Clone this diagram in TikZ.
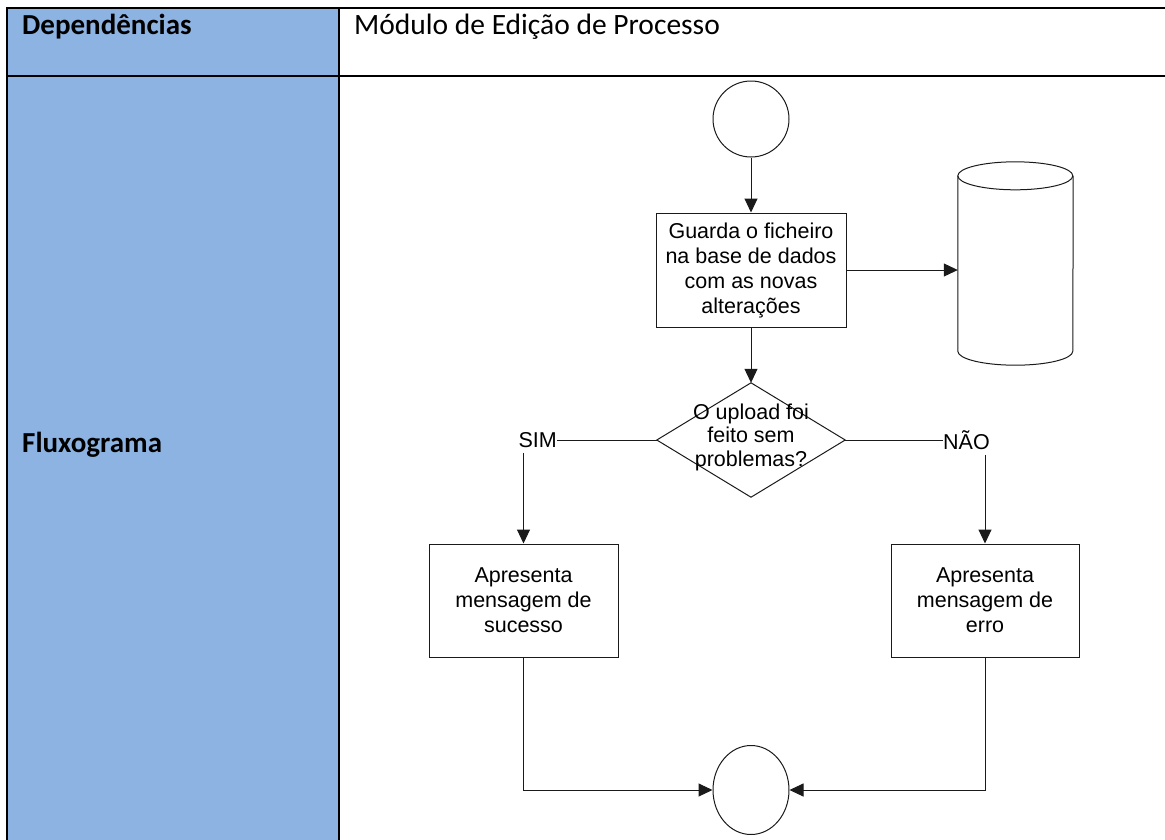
\documentclass[tikz,border=0pt]{standalone}
\usepackage{fontspec}
\setmainfont{Liberation Sans}
\newfontfamily\carlito{Carlito}
\usetikzlibrary{arrows.meta,shapes.geometric}
\definecolor{hdrblue}{HTML}{8DB3E2}
\definecolor{flowline}{HTML}{1A1A1A}
\begin{document}
\begin{tikzpicture}[x=1pt,y=-1pt,
  flow/.style={draw=flowline, line width=1pt},
  arr/.style={flow, -{Triangle[length=14pt,width=13pt]}},
  proc/.style={draw=flowline, line width=1pt, align=center, inner sep=0pt,
    font=\fontsize{21.5}{25}\selectfont},
  lbl/.style={inner sep=0pt, font=\fontsize{21.5}{25}\selectfont},
  hdr/.style={anchor=base west, inner sep=0pt, font=\carlito\fontsize{29.5}{34}\selectfont},
  hdrb/.style={hdr, font=\carlito\bfseries\fontsize{29}{34}\selectfont},
  tbl/.style={draw=black, line width=2pt}
]
\useasboundingbox (0,0) rectangle (1165,839);
% table
\fill[hdrblue] (7,8) rectangle (339,850);
\draw[tbl] (7,850) -- (7,8) -- (1175,8);
\draw[tbl] (7,76) -- (1175,76);
\draw[tbl] (339,8) -- (339,850);
\node[hdrb] (dep) at (22,34) {Dependências};
\node[hdr] (mod) at (354,34) {Módulo de Edição de Processo};
\node[hdrb] (flux) at (22,452) {Fluxograma};
% flowchart
\node[circle, flow, minimum size=76pt, inner sep=0pt] (start) at (751,119) {};
\node[proc, minimum width=190pt, minimum height=114pt] (guarda) at (751,270)
  {Guarda o ficheiro\\na base de dados\\com as novas\\alterações};
% database cylinder
\node[inner sep=0pt, minimum width=115pt, minimum height=203pt] (db) at (1015.5,263.5) {};
\draw[flow] ([yshift=-14pt]db.north west)
  arc[start angle=180, end angle=360, x radius=57.5pt, y radius=14pt]
  arc[start angle=0, end angle=180, x radius=57.5pt, y radius=14pt];
\draw[flow] ([yshift=-14pt]db.north west) -- ([yshift=14pt]db.south west)
  arc[start angle=180, end angle=360, x radius=57.5pt, y radius=14pt]
  -- ([yshift=-14pt]db.north east);
% decision
\node[inner sep=0pt, minimum width=188pt, minimum height=114pt] (dec) at (751,440) {};
\draw[flow] (dec.north) -- (dec.east) -- (dec.south) -- (dec.west) -- cycle;
\node[lbl, align=center, font=\fontsize{21.5}{23.5}\selectfont] (dectext) at (751,437)
  {O upload foi\\feito sem\\problemas?};
\node[lbl, anchor=east] (sim) at (557,440) {SIM};
\node[lbl, anchor=west] (nao) at (943,440) {NÃO};
\coordinate (simb) at ([yshift=-5pt]sim.south);
\coordinate (naob) at ([yshift=-5pt]nao.south);
\node[proc, minimum width=189pt, minimum height=113pt] (succ) at (523.5,600.5)
  {Apresenta\\mensagem de\\sucesso};
\node[proc, minimum width=188pt, minimum height=113pt] (erro) at (985,600.5)
  {Apresenta\\mensagem de\\erro};
\node[ellipse, flow, minimum width=76pt, minimum height=89pt, inner sep=0pt] (end) at (751,790) {};
% connectors
\draw[arr] (start) -- (guarda);
\draw[arr] (guarda.east) -- (guarda.east -| db.west);
\draw[arr] (guarda) -- (dec.north);
\draw[flow] (dec.west) -- (sim.east);
\draw[flow] (dec.east) -- (nao.west);
\draw[arr] (simb -| succ.north) -- (succ.north);
\draw[arr] (naob -| erro.north) -- (erro.north);
\draw[arr] (succ.south) |- (end.west);
\draw[arr] (erro.south) |- (end.east);
\end{tikzpicture}
\end{document}
